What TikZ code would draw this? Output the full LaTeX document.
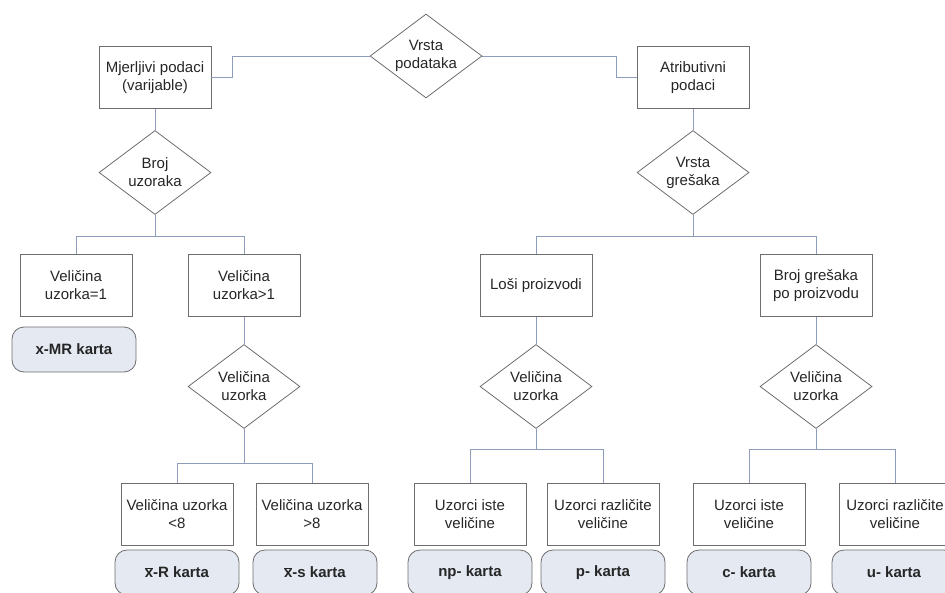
\documentclass[tikz,border=0pt]{standalone}
\usepackage{fontspec}
\setmainfont{Liberation Sans}
\usepackage{tikz}
\usetikzlibrary{shapes.geometric}
\definecolor{linkblue}{HTML}{8C9CBA}
\definecolor{edgegray}{HTML}{6E6E6E}
\definecolor{chartfill}{HTML}{E4E9F2}
\tikzstyle{every node}=[font=\fontsize{15}{18}\selectfont, text=black!85, align=center]
\tikzstyle{box}=[draw=edgegray, line width=0.8pt, minimum width=112pt, minimum height=62pt, inner sep=2pt]
\tikzstyle{choice}=[diamond, aspect=1.35, draw=edgegray, line width=0.8pt, minimum width=112pt, minimum height=84pt, inner sep=0pt]
\tikzstyle{chart}=[draw=edgegray, line width=0.8pt, fill=chartfill, rounded corners=12pt, minimum width=124pt, minimum height=45pt, font=\fontsize{15}{18}\selectfont\bfseries]
\tikzstyle{link}=[draw=linkblue, line width=1pt]

\begin{document}
\begin{tikzpicture}[x=1pt,y=-1pt]
\useasboundingbox (0,0) rectangle (945,592);

\node[choice] (vp) at (426,56) {Vrsta\\podataka};
\node[box] (mjp) at (155,77.5) {Mjerljivi podaci\\(varijable)};
\node[box] (atp) at (693,77.5) {Atributivni\\podaci};
\node[choice] (bu) at (155,172.5) {Broj\\uzoraka};
\node[choice] (vg) at (693,172.5) {Vrsta\\grešaka};

\node[box] (vu1) at (76,285.5) {Veličina\\uzorka=1};
\node[box] (vuv) at (244,285.5) {Veličina\\uzorka>1};
\node[box] (lp) at (536,285.5) {Loši proizvodi};
\node[box] (bgp) at (816,285.5) {Broj grešaka\\po proizvodu};
\node[chart] (xmr) at (74,349.5) {x-MR karta};

\node[choice] (vul) at (244,386.5) {Veličina\\uzorka};
\node[choice] (vum) at (536,386.5) {Veličina\\uzorka};
\node[choice] (vud) at (816,386.5) {Veličina\\uzorka};

\node[box] (vm8) at (177,514.5) {Veličina uzorka\\<8};
\node[box] (vv8) at (312,514.5) {Veličina uzorka\\>8};
\node[box] (ui1) at (470,514.5) {Uzorci iste\\veličine};
\node[box] (ur1) at (603,514.5) {Uzorci različite\\veličine};
\node[box] (ui2) at (749,514.5) {Uzorci iste\\veličine};
\node[box] (ur2) at (895,514.5) {Uzorci različite\\veličine};

\node[chart] (xr) at (177,572.5) {$\overline{\mbox{x}}$-R karta};
\node[chart] (xs) at (315,572.5) {$\overline{\mbox{x}}$-s karta};
\node[chart] (np) at (470,572.5) {np- karta};
\node[chart] (pk) at (603,572.5) {p- karta};
\node[chart] (ck) at (749,572.5) {c- karta};
\node[chart] (uk) at (894,572.5) {u- karta};

\draw[link] (vp.west) -| ([xshift=21pt]mjp.east) -- (mjp.east);
\draw[link] (vp.east) -| ([xshift=-20pt]atp.west) -- (atp.west);
\draw[link] (mjp) -- (bu);
\draw[link] (atp) -- (vg);
\draw[link] (bu.south) -- ++(0,22) -| (vu1.north) (bu.south) ++(0,22) -| (vuv.north);
\draw[link] (vg.south) -- ++(0,22) -| (lp.north) (vg.south) ++(0,22) -| (bgp.north);
\draw[link] (vuv) -- (vul);
\draw[link] (lp) -- (vum);
\draw[link] (bgp) -- (vud);
\draw[link] (vul.south) -- ++(0,35) -| (vm8.north) (vul.south) ++(0,35) -| (vv8.north);
\draw[link] (vum.south) -- ++(0,21) -| (ui1.north) (vum.south) ++(0,21) -| (ur1.north);
\draw[link] (vud.south) -- ++(0,21) -| (ui2.north) (vud.south) ++(0,21) -| (ur2.north);

\end{tikzpicture}
\end{document}
